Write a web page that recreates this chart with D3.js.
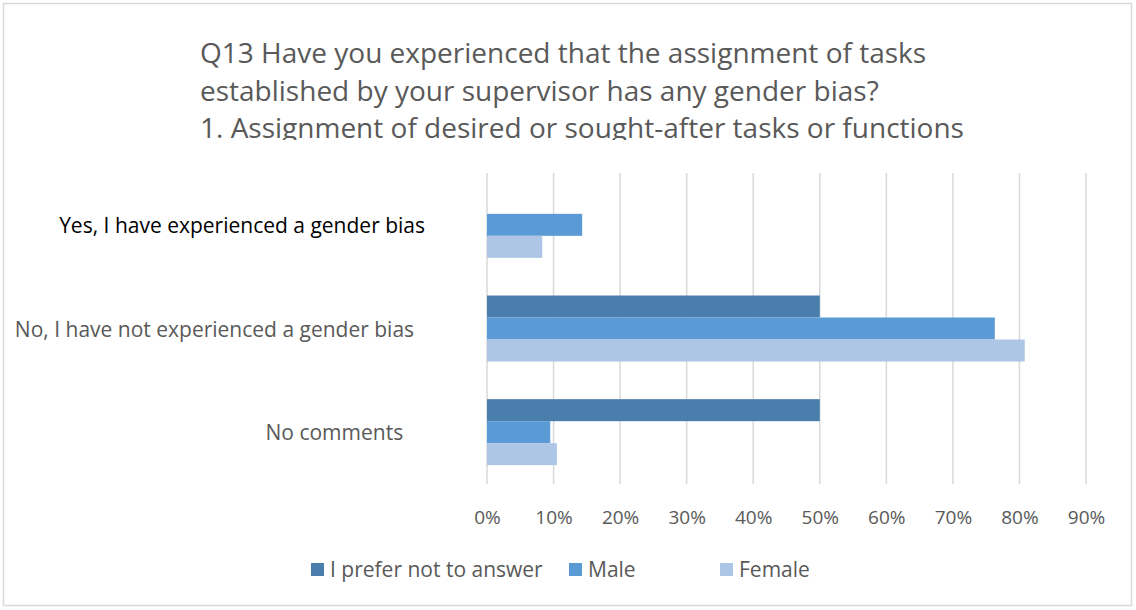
<!DOCTYPE html>
<html>
<head>
<meta charset="utf-8">
<script src="https://cdn.jsdelivr.net/npm/d3@7"></script>
<style>
  html, body { margin: 0; padding: 0; background: #fff; }
  svg text { font-family: "Open Sans", sans-serif; }
</style>
</head>
<body>
<svg id="chart" width="1136" height="610"></svg>
<script>
const titleLines = [
  "Q13 Have you experienced that the assignment of tasks",
  "established by your supervisor has any gender bias?",
  "1. Assignment of desired or sought-after tasks or functions"
];
const categories = [
  "Yes, I have experienced a gender bias",
  "No, I have not experienced a gender bias",
  "No comments"
];
const seriesNames = ["I prefer not to answer", "Male", "Female"];
const preferValues = [0, 0.50, 0.50];
const maleValues = [0.143, 0.763, 0.095];
const femaleValues = [0.083, 0.808, 0.105];
const tickValues = [0, 0.1, 0.2, 0.3, 0.4, 0.5, 0.6, 0.7, 0.8, 0.9];
const colors = ["#4a7ead", "#5b9bd5", "#adc6e5"];

const series = [preferValues, maleValues, femaleValues];

const svg = d3.select("#chart");

// outer border
svg.append("rect").attr("x", 3.5).attr("y", 3.5).attr("width", 1128).attr("height", 602)
  .attr("fill", "#fff").attr("stroke", "#d9d9d9").attr("stroke-width", 1.5);

// title, clipped at bottom
svg.append("clipPath").attr("id", "tclip").append("rect")
  .attr("x", 0).attr("y", 0).attr("width", 1136).attr("height", 140);
const title = svg.append("g").attr("clip-path", "url(#tclip)");
titleLines.forEach((t, i) => {
  title.append("text").attr("x", 200).attr("y", 63 + i * 37.5)
    .attr("font-size", 28).attr("fill", "#595959").text(t);
});

const x = d3.scaleLinear().domain([0, 0.9]).range([487, 1086]);
const y = d3.scaleBand().domain(d3.range(categories.length)).range([173, 484]).paddingInner(0).paddingOuter(0);
const barH = 22;

// gridlines
svg.append("g").selectAll("line").data(tickValues).join("line")
  .attr("x1", d => x(d)).attr("x2", d => x(d))
  .attr("y1", 173).attr("y2", 484)
  .attr("stroke", "#d9d9d9").attr("stroke-width", 1.5);

// bars
series.forEach((vals, si) => {
  svg.append("g").selectAll("rect").data(vals).join("rect")
    .attr("x", x(0))
    .attr("y", (d, i) => y(i) + y.bandwidth() / 2 - 1.5 * barH + si * barH)
    .attr("width", d => x(d) - x(0))
    .attr("height", barH)
    .attr("fill", colors[si]);
});

// category labels
const labelAnchorX = 425;
const trailing = ["", "\u00a0\u00a0", "\u00a0\u00a0\u00a0\u00a0"];
svg.append("g").selectAll("text").data(categories).join("text")
  .attr("x", labelAnchorX)
  .attr("y", (d, i) => y(i) + y.bandwidth() / 2 + 8)
  .attr("text-anchor", "end")
  .attr("font-size", 21)
  .style("white-space", "pre")
  .attr("fill", (d, i) => i === 0 ? "#000" : "#595959")
  .text((d, i) => d + trailing[i]);

// x axis tick labels
const xAxis = d3.axisBottom(x).tickValues(tickValues).tickFormat(d3.format(".0%")).tickSize(0).tickPadding(0);
const ax = svg.append("g").attr("transform", "translate(0,508)").call(xAxis);
ax.select(".domain").remove();
ax.selectAll("text").attr("font-size", 19).attr("fill", "#595959")
  .attr("font-family", "Open Sans, sans-serif").attr("dy", "0.84em");

// legend
const legendX = [311, 569, 720];
const lg = svg.append("g");
seriesNames.forEach((n, i) => {
  lg.append("rect").attr("x", legendX[i]).attr("y", 563).attr("width", 13).attr("height", 13).attr("fill", colors[i]);
  lg.append("text").attr("x", legendX[i] + 19).attr("y", 577).attr("font-size", 21).attr("fill", "#595959").text(n);
});
</script>
</body>
</html>
